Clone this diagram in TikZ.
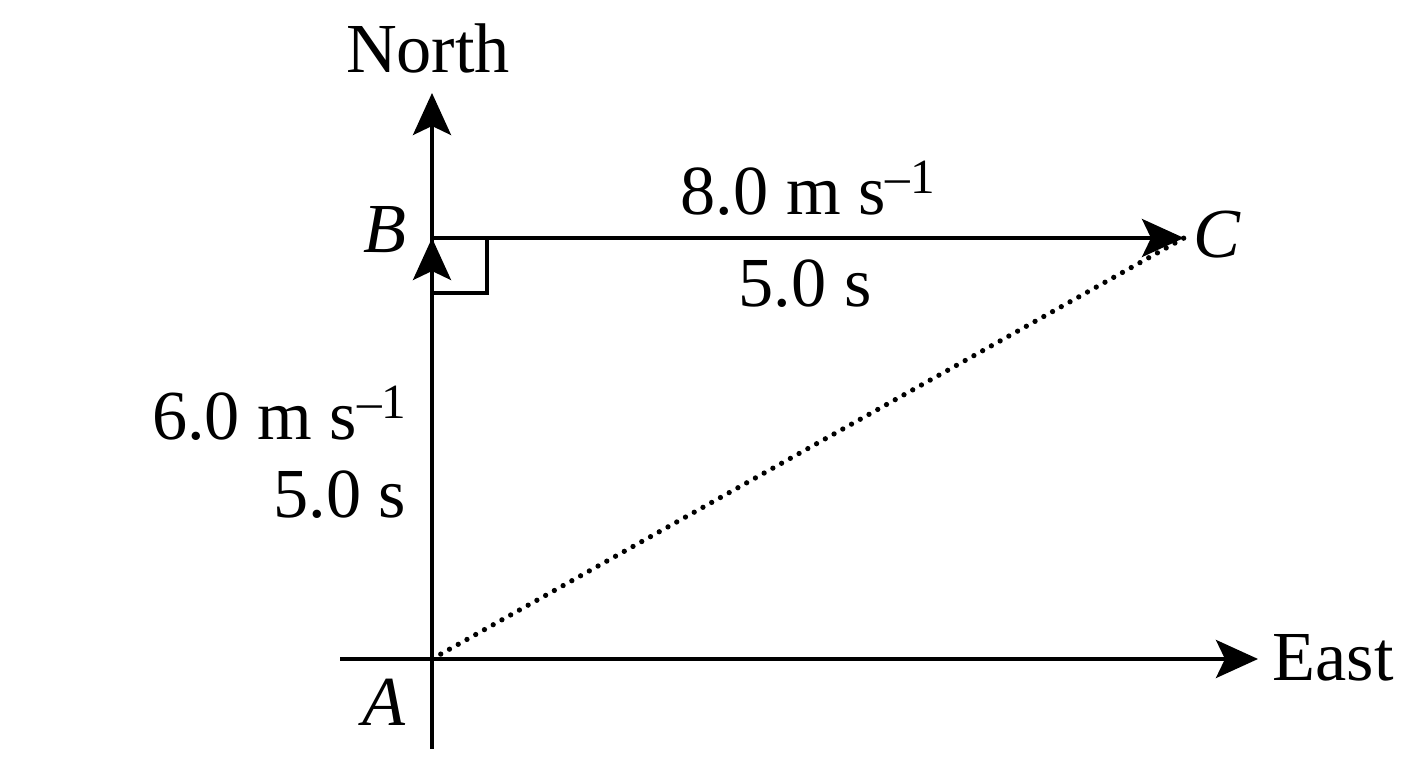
\documentclass[tikz,border=0pt]{standalone}
\usepackage{fontspec}
\setmainfont{Liberation Serif}
\usetikzlibrary{arrows.meta}
\tikzset{
  vec/.style={line width=1.1pt, -{Stealth[length=4.2mm,width=3.8mm,inset=0.9mm]}},
  lbl/.style={inner sep=0pt, font=\fontsize{20}{24}\selectfont},
}
\newcommand{\unitinv}{ m s\raisebox{0.3em}{\fontsize{14}{14}\selectfont –1}}
\begin{document}
\begin{tikzpicture}
    \useasboundingbox (0,0) rectangle (14.08,7.68);
    \coordinate (A) at (4.32,1.09);
    \coordinate (B) at (4.32,5.30);
    \coordinate (C) at (11.84,5.30);
    \coordinate (north) at (4.32,6.75);
    \coordinate (south) at (4.32,0.19);
    \coordinate (west) at (3.40,1.09);
    \coordinate (east) at (12.58,1.09);
    % axes
    \draw[vec] (south) -- (north);
    \draw[vec] (west) -- (east);
    % displacements
    \draw[vec] (A) -- (B);
    \draw[vec] (B) -- (C);
    \draw[line width=1.1pt] (4.32,4.75) -- (4.87,4.75) -- (4.87,5.30);
    \draw[line width=1.5pt, line cap=round, dash pattern=on 0pt off 2.85pt] (A) -- (C);
    % labels
    \node[lbl, anchor=base] (northlbl) at (4.28,6.95) {North};
    \node[lbl, anchor=base west] (eastlbl) at (12.72,0.87) {East};
    \node[lbl, anchor=base] (Albl) at (3.84,0.42) {\itshape A};
    \node[lbl, anchor=base] (Blbl) at (3.85,5.15) {\itshape B};
    \node[lbl, anchor=base] (Clbl) at (12.17,5.10) {\itshape C};
    \node[lbl, anchor=base west] (vBC) at (6.80,5.53) {8.0\unitinv};
    \node[lbl, anchor=base west] (tBC) at (7.38,4.61) {5.0 s};
    \node[lbl, anchor=base east] (vAB) at (4.07,3.28) {6.0\unitinv};
    \node[lbl, anchor=base east] (tAB) at (4.07,2.50) {5.0 s};
\end{tikzpicture}
\end{document}
